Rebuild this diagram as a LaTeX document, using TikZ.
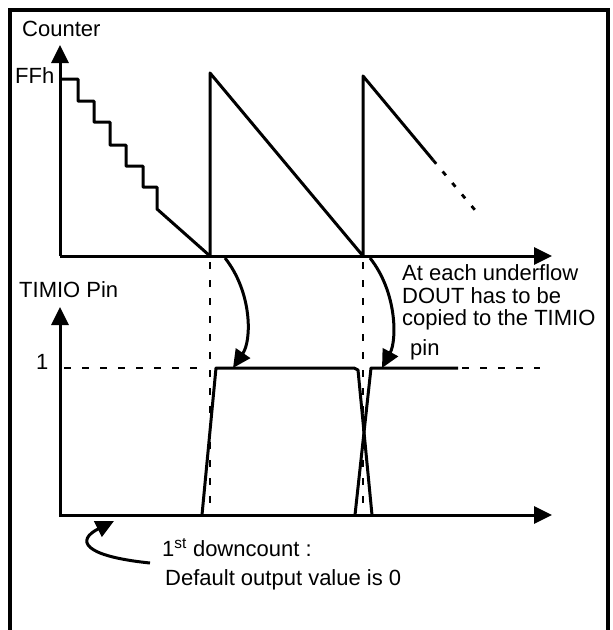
\documentclass[tikz,border=0pt]{standalone}
\usepackage{fontspec}
\setmainfont{Liberation Sans}
\usetikzlibrary{arrows.meta}
\begin{document}
\begin{tikzpicture}[x=1pt,y=-1pt,
  ln/.style={line width=3pt, line join=round},
  tip/.style={-{Triangle[length=18pt,width=17pt]}},
  ax/.style={line width=3pt, tip},
  dsh/.style={line width=2.8pt, dash pattern=on 7pt off 11pt},
  lbl/.style={font=\fontsize{22}{24}\selectfont, inner sep=0pt, anchor=base west}]
\clip (0,0) rectangle (613,630);
\useasboundingbox (0,0) rectangle (613,630);
% frame
\draw[line width=3.2pt] (10,650) -- (10,10) -- (608,10) -- (608,650);
% named coordinates
\coordinate (o1) at (60,256);
\coordinate (o2) at (60,515);
\coordinate (u1) at (210,256);
\coordinate (u2) at (363,256);
% labels
\node[lbl] (counter) at (22,36) {Counter};
\node[lbl] (ffh) at (15,83) {FFh};
\node[lbl] (timio) at (19,297) {TIMIO Pin};
\node[lbl] (one) at (36,369) {1};
\node[lbl] (t1) at (402,280) {At each underflow};
\node[lbl] (t2) at (402,303) {DOUT has to be};
\node[lbl] (t3) at (402,325) {copied to the TIMIO};
\node[lbl] (t4) at (410,355) {pin};
\node[lbl] (d1) at (162,556) {1\textsuperscript{st} downcount :};
\node[lbl] (d2) at (165,585) {Default output value is 0};
% upper axes
\draw[ax] (o1) -- (60,45);
\draw[ax] (o1) -- (552,256);
% counter staircase and sawtooth
\draw[ln] (60,79) -| (78,101) -| (94,122) -| (110,145) -| (126,166) -| (143,187) -| (157,209) -- (u1);
\draw[ln] (u1) -- (210,73) -- (u2) -- (363,76) -- (433,160);
\draw[line width=2.8pt, dash pattern=on 5pt off 10pt] (433,160) -- (480,216);
% dashed verticals
\draw[dsh] (210,262) -- (210,515);
\draw[dsh] (363,262) -- (363,515);
% lower axes
\draw[ax] (60,517) -- (60,307);
\draw[ax] (o2) -- (552,515);
% level 1 line
\draw[dsh] (64,368) -- (208,368);
\draw[dsh] (462,368) -- (540,368);
% waveform
\draw[ln] (202,515) -- (216,368) -- (354,368) -- (358,370) -- (372,515);
\draw[ln] (355,515) -- (371,368) -- (458,368);
% curved arrows
\draw[ln, tip] (225,258) .. controls (252,292) and (252,340) .. (233,368);
\draw[ln, tip] (370,258) .. controls (397,292) and (397,340) .. (382,368);
\draw[ln, tip] (150,563) .. controls (82,556) and (76,540) .. (114,521);
\end{tikzpicture}
\end{document}
